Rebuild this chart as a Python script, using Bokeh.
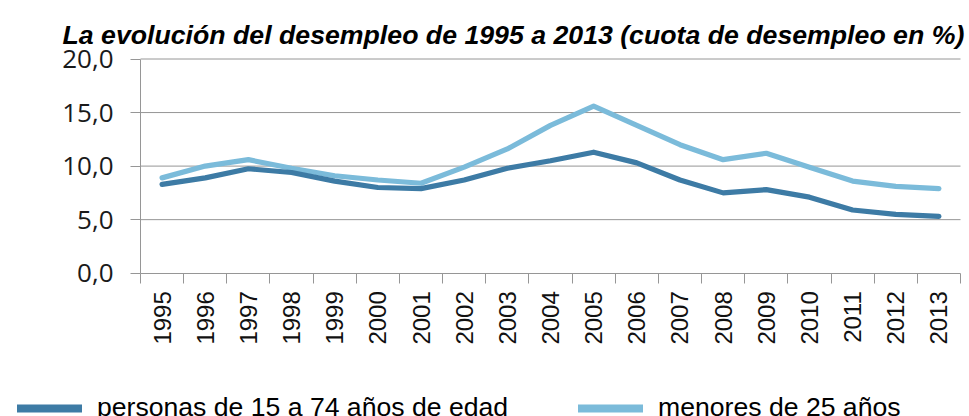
import math
from bokeh.plotting import figure
from bokeh.models import (Range1d, FixedTicker, Legend, LegendItem, ColumnDataSource,
                          LinearAxis, Label)
from bokeh.embed import file_html
from bokeh.resources import INLINE

years = [str(y) for y in range(1995, 2014)]
total = [8.3, 8.9, 9.75, 9.4, 8.6, 8.0, 7.9, 8.7, 9.8, 10.5, 11.3, 10.3, 8.7, 7.5, 7.8, 7.1, 5.9, 5.5, 5.3]
youth = [8.9, 10.0, 10.6, 9.8, 9.1, 8.7, 8.4, 9.9, 11.6, 13.8, 15.6, 13.8, 12.0, 10.6, 11.2, 9.9, 8.6, 8.1, 7.9]
y_ticks = [0, 5, 10, 15, 20]
y_labels = ["0,0", "5,0", "10,0", "15,0", "20,0"]
title_text = "La evolución del desempleo de 1995 a 2013 (cuota de desempleo en %)"
label_total = "personas de 15 a 74 años de edad"
label_youth = "menores de 25 años"

DARK = "#3D7BA5"
LIGHT = "#7BBBDA"
GRID = "#969696"

# layout (pixels): the frame spans the whole canvas
W, H = 969, 416
PLOT_L, PLOT_R = 140, 960          # x of first and last category edge
Y_TOP, Y_BOT = 58.5, 272.7         # pixel rows of y=20 and y=0
n = len(years)
ppx = (PLOT_R - PLOT_L) / n
ppy = (Y_BOT - Y_TOP) / (y_ticks[-1] - y_ticks[0])
x_range = Range1d(-PLOT_L / ppx, (W - PLOT_L) / ppx)
y_range = Range1d(-(H - Y_BOT) / ppy, y_ticks[-1] + Y_TOP / ppy)

x = [i + 0.5 for i in range(n)]
src = ColumnDataSource(dict(x=x, total=total, youth=youth))

p = figure(width=W, height=H, output_backend="svg", toolbar_location=None,
           x_range=x_range, y_range=y_range,
           x_axis_location=None, y_axis_location=None,
           min_border_left=0, min_border_right=0, min_border_top=0,
           min_border_bottom=0)
p.outline_line_color = None
p.background_fill_color = "white"
p.border_fill_color = "white"
for g in p.grid:
    g.visible = False

# title
p.add_layout(Label(x=62, y=H - 34, x_units="screen", y_units="screen", text=title_text,
                   text_font="Liberation Sans", text_font_style="bold italic",
                   text_font_size="26.7px", text_color="#000000",
                   text_baseline="alphabetic", text_align="left"))

# gridlines (within the plot area only)
gy = y_ticks[1:]
p.segment(x0=[0] * len(gy), x1=[n] * len(gy), y0=gy, y1=gy, line_color=GRID, line_width=1)

# x axis at y = 0
xa = LinearAxis(fixed_location=0, bounds=(0, n))
xa.ticker = FixedTicker(ticks=x, minor_ticks=list(range(n + 1)))
xa.major_label_overrides = {xi: yr for xi, yr in zip(x, years)}
xa.major_label_orientation = math.pi / 2
xa.major_tick_line_color = None
xa.major_tick_out = 10
xa.major_tick_in = 0
xa.minor_tick_out = 10
xa.minor_tick_in = 0
xa.minor_tick_line_color = GRID
xa.axis_line_color = GRID
xa.major_label_standoff = 8
xa.major_label_text_font = "Liberation Sans"
xa.major_label_text_font_size = "24px"
xa.major_label_text_color = "#111111"
p.add_layout(xa, "below")

# y axis at x = 0
ya = LinearAxis(fixed_location=0, bounds=(y_ticks[0], y_ticks[-1]))
ya.ticker = FixedTicker(ticks=y_ticks)
ya.major_label_overrides = {t: l for t, l in zip(y_ticks, y_labels)}
ya.minor_tick_line_color = None
ya.major_tick_out = 10
ya.major_tick_in = 0
ya.major_tick_line_color = GRID
ya.axis_line_color = GRID
ya.major_label_standoff = 17
ya.major_label_text_font = "Open Sans"
ya.major_label_text_font_size = "26px"
ya.major_label_text_color = "#1a1a1a"
p.add_layout(ya, "left")

p.line("x", "youth", source=src, line_color=LIGHT, line_width=5.2, line_join="round", line_cap="round")
p.line("x", "total", source=src, line_color=DARK, line_width=5.2, line_join="round", line_cap="round")

# legend swatches; single-point lines draw nothing in the plot
sw_total = p.line(x=x[:1], y=total[:1], line_color=DARK, line_width=8, line_cap="round")
sw_youth = p.line(x=x[:1], y=youth[:1], line_color=LIGHT, line_width=8, line_cap="round")

legend = Legend(items=[LegendItem(label=label_total, renderers=[sw_total]),
                       LegendItem(label=label_youth, renderers=[sw_youth])],
                orientation="horizontal", location=(17, -7),
                glyph_width=65, glyph_height=30, label_height=30,
                label_standoff=15, spacing=70, padding=0, margin=0,
                border_line_color=None, background_fill_alpha=0,
                label_text_font="Liberation Sans", label_text_font_size="26.6px",
                label_text_color="#000000")
p.add_layout(legend, "center")

open("out.html", "w").write(file_html(p, INLINE))
